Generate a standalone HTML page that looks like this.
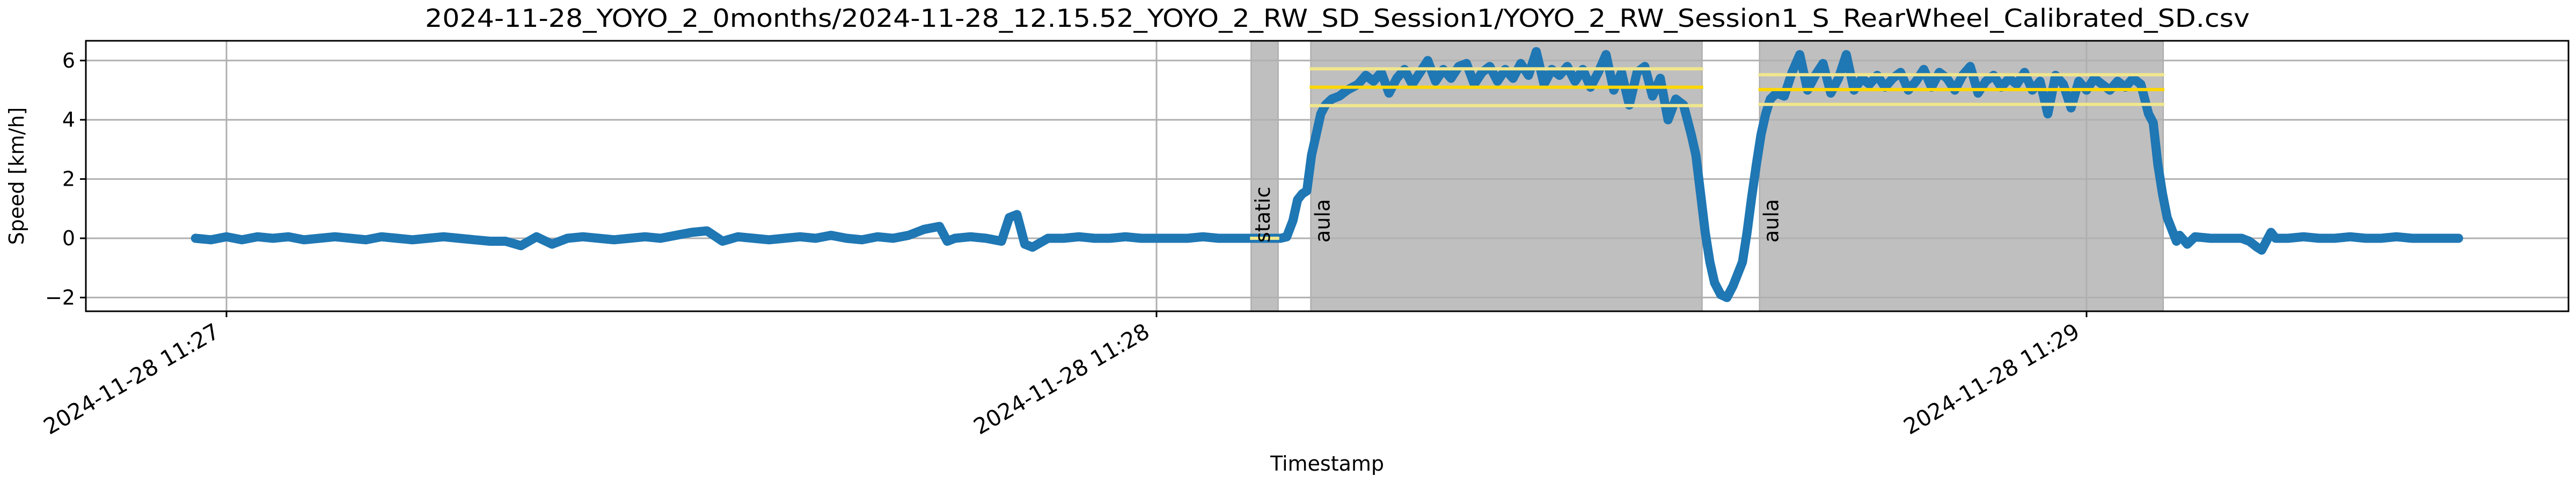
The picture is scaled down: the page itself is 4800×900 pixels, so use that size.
<!DOCTYPE html>
<html><head><meta charset="utf-8"><style>
html,body{margin:0;padding:0;background:#fff;}
svg{display:block;font-family:"DejaVu Sans","Liberation Sans",sans-serif;}
</style></head><body>
<svg id="chart" width="4800" height="900" viewBox="0 0 4800 900" xmlns="http://www.w3.org/2000/svg">
<rect width="4800" height="900" fill="#fff"/>
<text x="2492" y="50" font-size="46" text-anchor="middle" textLength="3400" lengthAdjust="spacingAndGlyphs">2024-11-28_YOYO_2_0months/2024-11-28_12.15.52_YOYO_2_RW_SD_Session1/YOYO_2_RW_Session1_S_RearWheel_Calibrated_SD.csv</text>
<g id="bands"></g><g id="grid"></g><g id="series"></g><g id="stats"></g><g id="labels"></g><g id="axes"></g>
<text x="2473" y="877" font-size="38" text-anchor="middle">Timestamp</text>
<text transform="translate(44,328) rotate(-90)" font-size="38" text-anchor="middle">Speed [km/h]</text>
</svg>
<script>
// seconds after 11:27:00
const times = [-2,-1,0,1,2,3,4,5,6,7,8,9,10,11,12,13,14,15,16,17,18,19,20,21,22,23,24,25,26,27,28,29,30,31,32,33,34,35,36,37,38,39,40,41,42,43,44,45,46,46.5,47,48,49,50,50.5,51,51.5,52,53,54,55,56,57,58,59,60,61,62,63,64,65,66,67,68,68.4,68.8,69.1,69.4,69.7,70.0,70.3,70.6,70.9,71.3,71.8,72.3,
73,73.5,74,74.5,75,75.5,76,76.5,77,77.5,78,78.5,79,79.5,80,80.5,81,81.5,82,82.5,83,83.5,84,84.5,85,85.5,86,86.5,87,87.5,88,88.5,89,89.5,90,90.5,91,91.5,92,92.5,93,93.5,94,
94.5,94.8,95.1,95.4,95.7,96,96.4,96.8,97.2,97.5,97.8,98.1,98.4,98.7,99,99.3,99.6,100,
100.5,101,101.5,102,102.5,103,103.5,104,104.5,105,105.5,106,106.5,107,107.5,108,108.5,109,109.5,110,110.5,111,111.5,112,112.5,113,113.5,114,114.5,115,115.5,116,116.5,117,117.5,118,118.5,119,119.5,120,120.5,121,121.5,122,122.5,123,123.5,
124,124.3,124.6,124.9,125.2,125.5,125.8,126,126.5,127,128,129,130,130.5,131,131.3,131.6,131.9,132.2,133,134,135,136,137,138,139,140,141,142,143,144];
const speeds = [0,-0.05,0.05,-0.05,0.05,0,0.05,-0.05,0,0.05,0,-0.05,0.05,0,-0.05,0,0.05,0,-0.05,-0.1,-0.1,-0.25,0.05,-0.2,0,0.05,0,-0.05,0,0.05,0,0.1,0.2,0.25,-0.1,0.05,0,-0.05,0,0.05,0,0.1,0,-0.05,0.05,0,0.1,0.3,0.4,-0.1,0,0.05,0,-0.1,0.7,0.8,-0.2,-0.3,0,0,0.05,0,0,0.05,0,0,0,0,0.05,0,0,0,0,0,0.05,0.6,1.3,1.5,1.6,2.8,3.5,4.2,4.5,4.7,4.8,5.0,
5.2,5.5,5.3,5.6,4.9,5.4,5.7,5.2,5.6,6.0,5.3,5.7,5.4,5.8,5.9,5.2,5.6,5.8,5.3,5.7,5.4,5.9,5.5,6.3,5.2,5.7,5.5,5.8,5.3,5.7,5.1,5.6,6.2,5.0,5.6,4.5,5.6,5.8,4.8,5.4,4.0,4.7,4.5,
3.5,2.8,1.5,0.2,-0.8,-1.5,-1.9,-2.0,-1.6,-1.2,-0.8,0.2,1.4,2.5,3.5,4.2,4.7,4.9,
4.8,5.6,6.2,5.0,5.5,5.9,4.9,5.4,6.2,5.0,5.4,5.2,5.5,5.1,5.4,5.6,5.0,5.3,5.7,5.1,5.6,5.4,5.0,5.5,5.8,4.9,5.3,5.5,5.1,5.4,5.2,5.6,5.0,5.3,4.2,5.5,5.2,4.4,5.3,5.0,5.4,5.2,5.0,5.3,5.1,5.4,5.2,
4.2,3.9,2.5,1.5,0.7,0.3,-0.1,0.1,-0.2,0.05,0,0,0,-0.1,-0.3,-0.4,-0.1,0.2,0,0,0.05,0,0,0.05,0,0,0.05,0,0,0,0];
const yTicks = [-2,0,2,4,6];
const xTickSecs = [0,60,120];
const xTickLabels = ["2024-11-28 11:27","2024-11-28 11:28","2024-11-28 11:29"];
const segNames = ["static","aula","aula"];
const segStart = [66.1,69.95,98.9];
const segEnd = [67.85,95.2,124.95];
const segMean = [0,5.1,5.02];
const segStd = [0,0.62,0.5];

const L=160,R=4786,T=76,B=580;
const X = t => 422 + t*28.883;
const Y = v => 444 - v*55.2;
const NS="http://www.w3.org/2000/svg";
function mk(tag,attrs,parent){const e=document.createElementNS(NS,tag);for(const k in attrs)e.setAttribute(k,attrs[k]);document.getElementById(parent).appendChild(e);return e;}

segStart.forEach((s,i)=>{
  const r=mk('rect',{x:X(s),y:T,width:X(segEnd[i])-X(s),height:B-T,fill:'#bfbfbf',stroke:'#a8a8a8','stroke-width':2},'bands');
  
  
  const tx=mk('text',{transform:`translate(${X(s)+35},452) rotate(-90)`,'font-size':38},'labels');
  tx.textContent=segNames[i];
  
  
  const lines = segStd[i]>0 ? [[segMean[i]+segStd[i],'#f0e68c'],[segMean[i]-segStd[i],'#f0e68c'],[segMean[i],'#ffd700']] : [[segMean[i],'#f0e68c']];
  lines.forEach((ln,j)=>{
    const l=mk('line',{x1:X(s)-2,x2:X(segEnd[i])+2,y1:Y(ln[0]),y2:Y(ln[0]),stroke:ln[1],'stroke-width':6},'stats');
    
    
  });
});
yTicks.forEach(v=>{
  const g=mk('line',{x1:L,x2:R,y1:Y(v),y2:Y(v),stroke:'#b0b0b0','stroke-width':3},'grid');
  
  
  const tk=mk('line',{x1:L-11,x2:L,y1:Y(v),y2:Y(v),stroke:'#000','stroke-width':3},'axes');
  
  
  const lb=mk('text',{x:L-20,y:Y(v)+13,'font-size':38,'text-anchor':'end'},'axes');
  lb.textContent=(v<0?'\u2212':'')+Math.abs(v);
  
  
});
xTickSecs.forEach((s,i)=>{
  const g=mk('line',{x1:X(s),x2:X(s),y1:T,y2:B,stroke:'#b0b0b0','stroke-width':3},'grid');
  
  
  const tk=mk('line',{x1:X(s),x2:X(s),y1:B,y2:B+11,stroke:'#000','stroke-width':3},'axes');
  
  
  const lb=mk('text',{transform:`translate(${X(s)-10},${B+46}) rotate(-30)`,'font-size':41,'text-anchor':'end'},'axes');
  lb.textContent=xTickLabels[i];
  
  
});
const d=times.map((t,i)=>(i?'L':'M')+X(t).toFixed(1)+' '+Y(speeds[i]).toFixed(1)).join(' ');
const p=mk('path',{d:d,fill:'none',stroke:'#1f77b4','stroke-width':17,'stroke-linejoin':'round','stroke-linecap':'round'},'series');


const f=mk('rect',{x:L,y:T,width:R-L,height:B-T,fill:'none',stroke:'#000','stroke-width':3},'axes');


</script>
</body></html>
